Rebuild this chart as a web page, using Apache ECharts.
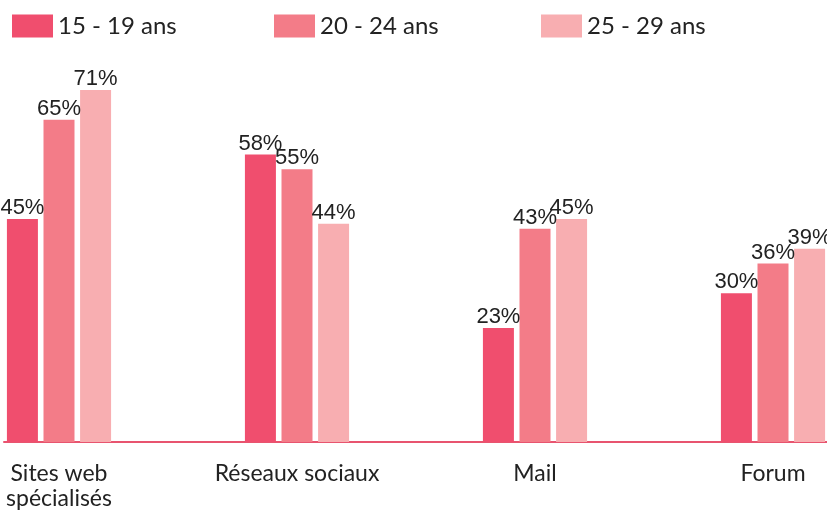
<!DOCTYPE html>
<html><head><meta charset="utf-8">
<script src="https://cdn.jsdelivr.net/npm/echarts@6/dist/echarts.min.js"></script>
<style>html,body{margin:0;padding:0;background:#fff}#c{width:827px;height:511px}</style>
</head><body><div id="c"></div>
<script>
const categories = ['Sites web\nspécialisés', 'Réseaux sociaux', 'Mail', 'Forum'];
const seriesNames = ['15 - 19 ans', '20 - 24 ans', '25 - 29 ans'];
const age15_19 = [45, 58, 23, 30];
const age20_24 = [65, 55, 43, 36];
const age25_29 = [71, 44, 45, 39];
const colors = ['#F04E6E', '#F37C88', '#F8AEB1'];
const legendLefts = [12, 274, 541];

const chart = echarts.init(document.getElementById('c'));
const dataSets = [age15_19, age20_24, age25_29];
const labelFont = "'Liberation Sans', Arial, sans-serif";
chart.setOption({
  animation: false,
  legend: seriesNames.map((n, i) => ({
    data: [n], left: legendLefts[i], top: 14, itemWidth: 41, itemHeight: 23, itemGap: 0,
    icon: 'rect', padding: 0,
    textStyle: { fontFamily: 'Lato', fontSize: 24, color: '#222' }
  })),
  grid: [
    { left: 59, right: 54, top: 45.4, bottom: 69 },
    { left: 4, right: 0, top: 45.4, bottom: 69 }
  ],
  xAxis: [{
    type: 'category', data: categories, gridIndex: 0, boundaryGap: false,
    axisLine: { show: false },
    axisTick: { show: false },
    axisLabel: { fontFamily: 'Lato', fontSize: 23, color: '#222', margin: 19, lineHeight: 25, interval: 0 }
  }, {
    type: 'value', gridIndex: 1, min: 0, max: 1,
    axisLine: { show: true, lineStyle: { color: '#E8546F', width: 2 } },
    axisTick: { show: false }, axisLabel: { show: false }, splitLine: { show: false }
  }],
  yAxis: [
    { type: 'value', gridIndex: 0, min: 0, max: 80, show: false, splitLine: { show: false } },
    { type: 'value', gridIndex: 1, min: 0, max: 80, show: false, splitLine: { show: false } }
  ],
  series: seriesNames.map((n, i) => ({
    name: n, type: 'bar', data: dataSets[i], barWidth: 31, barGap: '18%',
    itemStyle: { color: colors[i] },
    label: { show: true, position: 'top', distance: 0, formatter: '{c}%',
      fontFamily: labelFont, fontSize: 22, color: '#222' }
  }))
});
</script></body></html>
